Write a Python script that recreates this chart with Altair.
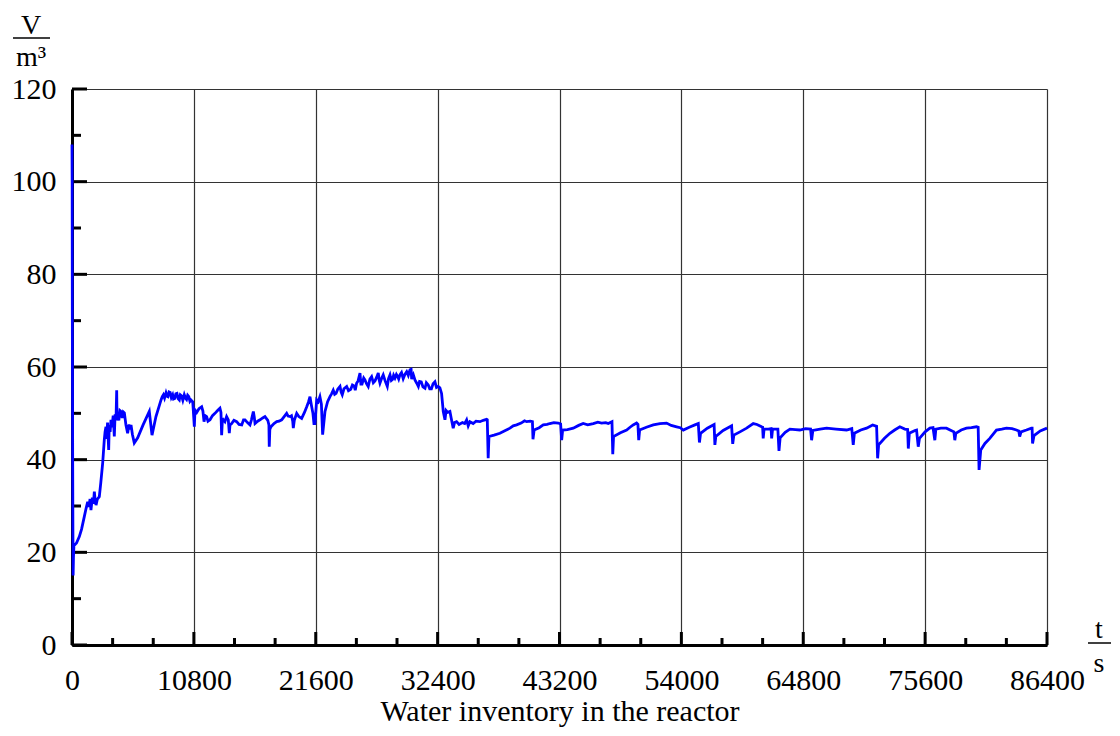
import altair as alt
import pandas as pd

# ---- data ----
T = [0, 15, 30, 45, 60, 80, 100, 130, 170,
     200, 400, 650, 850, 1090, 1250, 1390, 1500, 1600, 1680, 1800, 1900, 1980, 2060, 2130, 2250, 2420, 2550,
     2720, 2860, 2930, 3010, 3080, 3150, 3250, 3300, 3380, 3455, 3550, 3650, 3750, 3820, 3900, 3960, 3990,
     4050, 4150, 4250, 4340, 4450, 4550, 4640, 4780, 4930, 5050, 5150, 5230, 5350, 5520, 5820, 6300, 6850,
     7090, 7440, 7890, 8000, 8100, 8200, 8330, 8420, 8500, 8600, 8700, 8800, 8920, 9000, 9100, 9200, 9300,
     9400, 9510, 9600, 9700, 9820, 9950, 10050, 10150, 10250, 10350, 10450, 10540,
     10700, 10840,
     10900, 11050, 11250, 11490, 11600, 11700, 11800, 11930, 12050, 12230, 12450, 12670, 12900, 13110,
     13200, 13260, 13320, 13410, 13550, 13700, 13850, 13940, 14000, 14150, 14350, 14590, 14800, 15040,
     15200, 15330, 15550, 15770, 15900, 16070, 16150, 16220, 16450, 16660, 16900, 17100, 17350, 17450,
     17480, 17530, 17630, 17900, 18140, 18350, 18580, 18800, 19020, 19150, 19320, 19450, 19560, 19610,
     19700, 19910, 20100, 20350, 20600, 20800, 20950, 21090, 21160, 21240, 21350, 21440, 21530, 21680,
     21820, 21970, 22100, 22210, 22420, 22650, 22860, 23000, 23150, 23280, 23400, 23550, 23750, 23850,
     23950, 24100, 24340, 24500, 24700, 24850, 25000, 25100,
     25220, 25350, 25520, 25600, 25700, 25850, 25960, 26100, 26250, 26400, 26550, 26700, 26850, 27000,
     27140, 27220, 27290, 27450, 27580, 27750, 27940, 28050, 28180, 28300, 28400, 28500, 28620, 28750,
     28850, 28950, 29060, 29200, 29350, 29500, 29660, 29800, 29950, 30050, 30100, 30250, 30390, 30550,
     30690, 30800, 30950, 31100, 31280, 31400, 31570, 31700, 31850, 32000, 32160, 32300, 32450, 32600,
     32750, 32900, 33050, 33150, 33300, 33490, 33600, 33780, 33900, 34080, 34300, 34600, 34800, 34970,
     35110, 35260, 35550, 35800, 36150, 36450, 36740, 36800, 36880, 36950, 37400, 37920, 38400, 38810,
     39100, 39400, 39800, 40100, 40290, 40600, 40800, 40850, 40950, 41400, 41760, 42100, 42350, 42700,
     43090, 43300, 43390, 43480, 43900, 44420, 44900, 45300, 45700, 46190, 46600, 46930, 47300, 47520,
     47850, 47920, 47990, 48600, 49150, 49450, 49730, 50030, 50150, 50220, 50300, 50900, 51510, 52100,
     52690, 53100, 53580, 53900, 54170, 54700, 55200, 55500, 55600, 55700, 56300, 56820, 56900, 56970,
     57050, 57700, 58300, 58450, 58550, 58650, 59190, 59780, 60370, 60700, 61110, 61200, 61250, 61330,
     61700, 61950, 62000, 62080, 62550, 62650, 62750, 63200, 63620, 64100, 64500, 65000, 65450, 65540,
     65650, 66300, 66870, 67700, 68640, 69100, 69230, 69330, 69900, 70410, 70950, 71300, 71390, 71480,
     72000, 72480, 72900, 73360, 73800, 74050, 74110, 74200, 74700, 74840, 74990, 75100, 75600, 76020,
     76300, 76460, 76550, 77000, 77490, 77900, 78150, 78230, 78320, 78800, 79260, 79700, 80150, 80300,
     80380, 80530, 80900, 81330, 81920, 82400, 82800, 83300, 83690, 83900, 83980, 84100, 84580, 85020,
     85080, 85120, 85250, 85800, 86400]

V = [108, 100, 70, 57, 40, 25, 15, 19, 21.5,
     21.5, 22, 23.4, 25, 27.7, 29.5, 30.9, 29.8, 31.5, 29.1, 31.8, 30.5, 33.1, 31, 30.2, 31.5, 32, 35,
     39.3, 44.2, 46, 47.1, 44.5, 48, 42.1, 47.5, 46, 48.6, 47, 49.5, 45, 49.8, 48.5, 55.0, 49,
     49.3, 48.5, 50.6, 50.4, 49, 50.3, 50.1, 47.5, 45.7, 47.6, 46.5, 47.5, 45.5, 43.6, 44.7, 47.5, 50.4,
     45.3, 49.3, 52.9, 53.6, 54, 53.3, 54.4, 53.7, 53.6, 54.6, 54.5, 53.4, 54.0, 53.1, 53.2, 54.2, 54.3,
     53.2, 52.9, 54.0, 53.8, 52.8, 54, 53.3, 53, 53.9, 53.6, 52.6, 52.9,
     52.5, 47.1,
     50.7, 50.2, 51, 51.4, 50.5, 48.2, 49.5, 49.3, 48.3, 48.6, 49.5, 50.0, 50.6, 51.1,
     50.2, 45.3, 48.2, 48.6, 48.2, 49.3, 48.6, 45.7, 47.5, 47.8, 48.5, 48.2, 47.6, 47.5,
     48.6, 48.6, 48, 47.5, 48.6, 50.4, 49.2, 47.8, 48.3, 48.6, 49.0, 49.3, 48.5, 47.5,
     42.8, 46.5, 47.1, 47.8, 48.2, 48.3, 48.6, 49.3, 50.0, 49.4, 49.3, 49.5, 48.3, 46.8,
     48.5, 50.0, 49.3, 48.9, 50.2, 51.4, 52.4, 53.6, 52.5, 51.4, 50, 47.8, 47.8, 52.9,
     52.5, 53.6, 52.0, 45.4, 50.4, 52.5, 53.6, 54.2, 55, 54.1, 54.3, 55.2, 55.8, 54.6,
     54, 55.3, 55.8, 54.9, 55.2, 56.1, 55.9, 55.0,
     56.5, 57.0, 58.7, 56.3, 56.3, 57.6, 57.2, 56.4, 55.8, 57.4, 57.9, 56.6, 57.0, 57.8,
     58.7, 57.2, 56.5, 57.6, 58.3, 57.0, 55.8, 57.5, 58.3, 57.1, 57.3, 58.2, 57.6, 58.4,
     58.0, 57.4, 58.3, 58.8, 57.5, 58.4, 59, 58.2, 59.4, 59.5, 57.4, 58.3, 57.2, 56.5,
     55.8, 56.9, 56.8, 55.7, 55.4, 56.6, 56.1, 55.3, 55.3, 56.4, 56.8, 55.6, 55.8, 55.5,
     54.3, 50.4, 48.6, 50.6, 50.2, 50.4, 49.0, 46.8, 48.0, 48.2, 47.6, 48.0, 47.8, 48.6,
     47.3, 48.2, 47.8, 48.3, 48.2, 48.5, 48.7, 48.6, 40.3, 45.0, 45.3, 45.7, 46.3, 46.8,
     47.3, 47.5, 47.9, 48.4, 48.2, 48.3, 48.2, 44.4, 46.4, 46.9, 47.5, 47.6, 47.8, 48.0,
     47.9, 47.7, 44.2, 46.4, 46.5, 46.8, 47.4, 47.8, 47.5, 47.8, 48.1, 47.9, 48.0, 47.8,
     48.2, 41.2, 45.0, 45.8, 46.4, 47.0, 47.5, 47.9, 47.6, 44.2, 46.4, 47.0, 47.5, 47.8,
     47.9, 47.4, 47.1, 46.9, 46.4, 47.0, 47.5, 47.8, 43.7, 45.7, 46.8, 47.5, 47.6, 43.2,
     45.0, 46.3, 47.1, 47.3, 43.4, 45.3, 46.0, 46.8, 47.8, 47.6, 47.1, 47.0, 44.6, 46.6,
     46.6, 46.7, 44.6, 46.6, 46.6, 41.9, 44.7, 45.9, 46.6, 46.5, 46.4, 46.7, 46.6, 44.2,
     46.3, 46.6, 46.8, 46.6, 46.4, 46.7, 43.2, 45.7, 46.4, 46.8, 47.5, 47.2, 40.3, 43.2,
     44.6, 45.7, 46.4, 47.1, 46.6, 46.5, 42.4, 45.7, 46.3, 46.4, 42.8, 44.6, 46.0, 46.8,
     46.9, 44.2, 46.6, 46.8, 46.8, 46.3, 46.0, 44.2, 45.7, 46.4, 46.8, 46.9, 47.1, 47.0,
     37.8, 42.1, 43.5, 44.6, 46.4, 46.6, 46.8, 46.7, 46.4, 46.2, 45.0, 46.0, 46.4, 46.8,
     46.8, 43.5, 45.2, 46.2, 46.8]

Y_MAJOR = [0, 20, 40, 60, 80, 100, 120]
Y_MINOR = [10, 30, 50, 70, 90, 110]
X_MAJOR = [0, 10800, 21600, 32400, 43200, 54000, 64800, 75600, 86400]
X_MINOR = [3600, 7200, 14400, 18000, 25200, 28800, 36000, 39600, 46800, 50400,
           57600, 61200, 68400, 72000, 79200, 82800]

X_TITLE = "Water inventory in the reactor"
Y_NUM, Y_DEN = "V", "m³"
X_NUM, X_DEN = "t", "s"

W, H = 975, 556
FONT = "Liberation Serif"
FS = 30
FS_UNIT = 28

df = pd.DataFrame({"t": T, "V": V})
xs = alt.Scale(domain=[0, 86400], nice=False, zero=False)
ys = alt.Scale(domain=[0, 120], nice=False, zero=False)

base_axis = dict(
    domainColor="black", domainWidth=3, ticks=False, tickSize=0,
    labelFont=FONT, labelFontSize=FS, labelColor="black",
    grid=True, gridColor="#333333", gridWidth=1.2,
    titleFont=FONT, titleFontSize=FS, titleFontWeight="normal", titleColor="black",
    labelFlush=False, labelOverlap=False,
)

line = alt.Chart(df).mark_line(color="#0000FF", strokeWidth=2.8).encode(
    x=alt.X("t:Q", scale=xs,
            axis=alt.Axis(values=X_MAJOR, title=X_TITLE, labelPadding=20,
                          titlePadding=1, format="d", **base_axis)),
    y=alt.Y("V:Q", scale=ys,
            axis=alt.Axis(values=Y_MAJOR, title=None, labelPadding=16,
                          format="d", **base_axis)),
)

xmaj = pd.DataFrame({"t": X_MAJOR})
xmin = pd.DataFrame({"t": X_MINOR})
ymaj = pd.DataFrame({"v": Y_MAJOR})
ymin = pd.DataFrame({"v": Y_MINOR})

tick_style = dict(color="black", strokeWidth=3)
xt_major = alt.Chart(xmaj).mark_rule(**tick_style).encode(
    x=alt.X("t:Q", scale=xs), y=alt.value(H), y2=alt.value(H - 13))
xt_minor = alt.Chart(xmin).mark_rule(**tick_style).encode(
    x=alt.X("t:Q", scale=xs), y=alt.value(H), y2=alt.value(H - 7))
yt_major = alt.Chart(ymaj).mark_rule(**tick_style).encode(
    y=alt.Y("v:Q", scale=ys), x=alt.value(0), x2=alt.value(15))
yt_minor = alt.Chart(ymin).mark_rule(**tick_style).encode(
    y=alt.Y("v:Q", scale=ys), x=alt.value(0), x2=alt.value(9))

one = pd.DataFrame({"a": [0]})
txt = dict(font=FONT, fontSize=FS_UNIT, color="black", align="center", baseline="alphabetic")
v_num = alt.Chart(one).mark_text(text=Y_NUM, **txt).encode(x=alt.value(-41), y=alt.value(-55))
v_bar = alt.Chart(one).mark_rule(color="black", strokeWidth=1.5).encode(
    x=alt.value(-59), x2=alt.value(-22), y=alt.value(-51))
v_den = alt.Chart(one).mark_text(text=Y_DEN, **txt).encode(x=alt.value(-41), y=alt.value(-23))
t_num = alt.Chart(one).mark_text(text=X_NUM, **txt).encode(x=alt.value(W + 52), y=alt.value(H - 7))
t_bar = alt.Chart(one).mark_rule(color="black", strokeWidth=1.5).encode(
    x=alt.value(W + 41), x2=alt.value(W + 64), y=alt.value(H - 2))
t_den = alt.Chart(one).mark_text(text=X_DEN, **txt).encode(x=alt.value(W + 52), y=alt.value(H + 27))

chart = alt.layer(
    xt_major, xt_minor, yt_major, yt_minor, line,
    v_num, v_bar, v_den, t_num, t_bar, t_den,
).properties(
    width=W, height=H,
    autosize=alt.AutoSizeParams(type="none"),
    padding={"left": 64, "top": 81, "right": 65, "bottom": 83},
).configure_view(strokeWidth=0)

chart.save("out.html", embed_options={"renderer": "svg", "actions": False})
